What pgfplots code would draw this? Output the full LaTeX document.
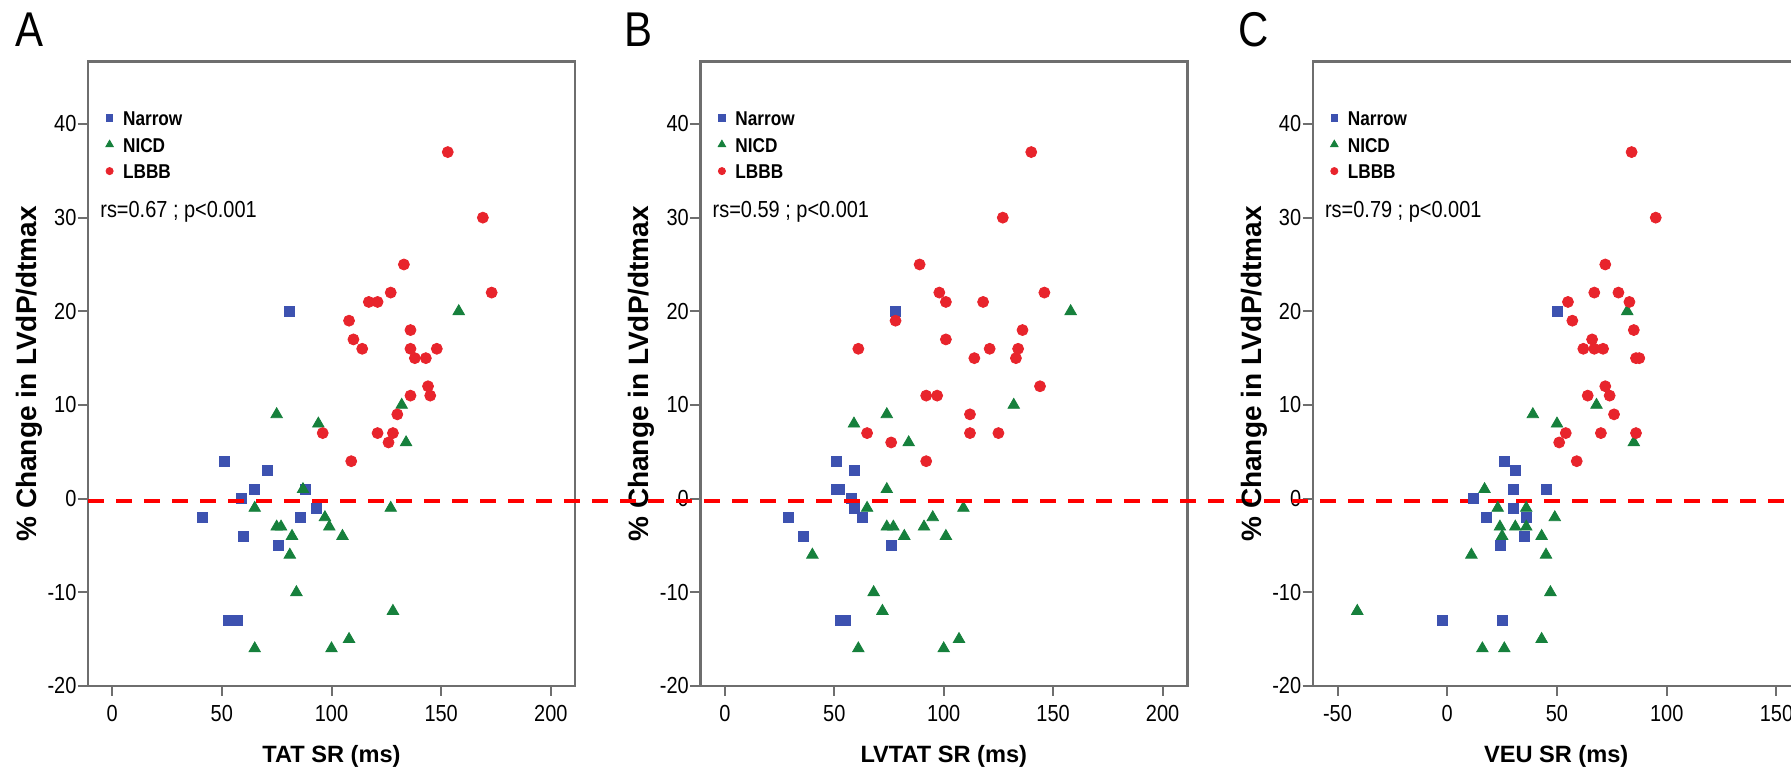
\documentclass[border=0pt]{standalone}
\usepackage{fontspec}
\setmainfont{Liberation Sans}
\newfontfamily\narrow[FakeStretch=0.86]{Liberation Sans}
\usepackage{pgfplots}
\pgfplotsset{compat=1.18}
\definecolor{nblue}{RGB}{61,82,176}
\definecolor{ngreen}{RGB}{22,128,60}
\definecolor{lred}{RGB}{232,36,44}
\definecolor{framegray}{RGB}{110,110,110}

\pgfplotsset{
  panel/.style={
    scale only axis, width=243.5pt, height=312.15pt,
    anchor=south west,
    ymin=-20, ymax=46.65,
    ytick={-20,-10,0,10,20,30,40},
    axis line style={framegray, line width=1.2pt},
    tick style={framegray, line width=1pt},
    tick align=outside, major tick length=5pt, tick pos=left,
    /pgf/number format/assume math mode=true,
    tick label style={font=\narrow\fontsize{11.6}{12}\selectfont},
    yticklabel style={inner sep=0.6pt},
    xticklabel style={inner sep=4.6pt},
    xlabel style={at={(axis description cs:0.5,-0.1121)}, anchor=center,
      font=\bfseries\fontsize{11.8}{13}\selectfont},
    ylabel style={at={(axis description cs:-0.1201,0.5)}, anchor=center,
      font=\bfseries\fontsize{14}{15}\selectfont},
    ylabel={\% Change in LVdP/dtmax},
    legend cell align=left,
    legend image code/.code={\draw[#1, every mark/.append style={scale=0.65}] plot coordinates {(0pt,0pt)};},
    legend style={draw=none, fill=none, inner sep=0pt,
      at={(axis description cs:0.0359,0.926)}, anchor=north west,
      font=\narrow\bfseries\fontsize{10}{12}\selectfont,
      row sep=3.7pt,
      nodes={inner sep=1pt, text height=7.6pt, text depth=0pt},
      /tikz/column 1/.style={column sep=3.9pt}},
  },
  narrowst/.style={only marks, mark=square*, mark size=2.5pt, color=nblue, mark options={line width=0.4pt}},
  nicdst/.style={only marks, mark=triangle*, mark size=3.3pt, color=ngreen, mark options={line width=0.4pt}},
  lbbbst/.style={only marks, mark=*, mark size=2.75pt, color=lred, mark options={line width=0.4pt}},
}

\pgfplotstableread{
x y
81 20
51 4
71 3
65 1
88 1
59 0
41 -2
86 -2
93 -1
60 -4
76 -5
53 -13
57 -13
}\narrowA
\pgfplotstableread{
x y
158 20
75 9
94 8
132 10
134 6
87 1
65 -1
127 -1
97 -2
75 -3
77 -3
99 -3
82 -4
105 -4
81 -6
84 -10
128 -12
108 -15
65 -16
100 -16
}\nicdA
\pgfplotstableread{
x y
153 37
169 30
133 25
127 22
173 22
117 21
121 21
108 19
136 18
110 17
114 16
136 16
148 16
138 15
143 15
144 12
145 11
136 11
96 7
121 7
128 7
126 6
130 9
109 4
}\lbbbA

\pgfplotstableread{
x y
78 20
51 4
59 3
51 1
52.5 1
58 0
59 -1
63 -2
29 -2
36 -4
76 -5
53 -13
55 -13
}\narrowB
\pgfplotstableread{
x y
158 20
132 10
74 9
59 8
84 6
74 1
65 -1
109 -1
95 -2
74 -3
77 -3
91 -3
82 -4
101 -4
40 -6
68 -10
72 -12
107 -15
61 -16
100 -16
}\nicdB
\pgfplotstableread{
x y
140 37
127 30
89 25
98 22
146 22
101 21
118 21
78 19
136 18
101 17
61 16
121 16
134 16
114 15
133 15
144 12
92 11
97 11
112 9
65 7
112 7
125 7
76 6
92 4
}\lbbbB

\pgfplotstableread{
x y
50 20
26 4
31 3
30 1
45 1
12 0
30 -1
18 -2
36 -2
35 -4
24 -5
-2 -13
25 -13
}\narrowC
\pgfplotstableread{
x y
82 20
39 9
50 8
68 10
85 6
17 1
23 -1
36 -1
49 -2
24 -3
31 -3
36 -3
25 -4
43 -4
11 -6
45 -6
47 -10
-41 -12
43 -15
16 -16
26 -16
}\nicdC
\pgfplotstableread{
x y
84 37
95 30
72 25
67 22
78 22
55 21
83 21
57 19
85 18
66 17
62 16
67 16
71 16
86 15
87.5 15
72 12
74 11
64 11
76 9
54 7
70 7
86 7
51 6
59 4
}\lbbbC

\begin{document}
\begin{tikzpicture}
% panel A
\begin{axis}[panel, at={(44pt,44pt)}, xmin=-11, xmax=211,
  xtick={0,50,100,150,200}, xlabel={TAT SR (ms)}]
\addplot[narrowst] table {\narrowA};
\addplot[nicdst] table {\nicdA};
\addplot[lbbbst] table {\lbbbA};
\legend{Narrow,NICD,LBBB}
\node[anchor=west, font=\narrow\fontsize{11.6}{12}\selectfont, inner sep=0pt]
  at (axis description cs:0.0246,0.7597) {rs=0.67 ; p<0.001};
\end{axis}
% panel B
\begin{axis}[panel, at={(350.15pt,44pt)}, xmin=-11.2, xmax=211.3,
  xtick={0,50,100,150,200}, xlabel={LVTAT SR (ms)}]
\addplot[narrowst] table {\narrowB};
\addplot[nicdst] table {\nicdB};
\addplot[lbbbst] table {\lbbbB};
\legend{Narrow,NICD,LBBB}
\node[anchor=west, font=\narrow\fontsize{11.6}{12}\selectfont, inner sep=0pt]
  at (axis description cs:0.0246,0.7597) {rs=0.59 ; p<0.001};
\end{axis}
% panel C
\begin{axis}[panel, at={(656.35pt,44pt)}, xmin=-61.3, xmax=160.6,
  xtick={-50,0,50,100,150}, xlabel={VEU SR (ms)}, clip=false]
\addplot[narrowst] table {\narrowC};
\addplot[nicdst] table {\nicdC};
\addplot[lbbbst] table {\lbbbC};
\legend{Narrow,NICD,LBBB}
\node[anchor=west, font=\narrow\fontsize{11.6}{12}\selectfont, inner sep=0pt]
  at (axis description cs:0.0246,0.7597) {rs=0.79 ; p<0.001};
% zero reference line running across all three panels
\addplot[forget plot, red, line width=2pt, dash pattern=on 8pt off 6pt]
  coordinates {(-619.3,-0.25) (170,-0.25)};
\end{axis}
\node[font=\narrow\fontsize{24.4}{26}\selectfont] at (14.75pt,372.25pt) {A};
\node[font=\narrow\fontsize{24.4}{26}\selectfont] at (319pt,372.25pt) {B};
\node[font=\narrow\fontsize{24.4}{26}\selectfont] at (627pt,372.25pt) {C};
\pgfresetboundingbox
\useasboundingbox (0,0) rectangle (895.5pt,387pt);
\end{tikzpicture}
\end{document}
